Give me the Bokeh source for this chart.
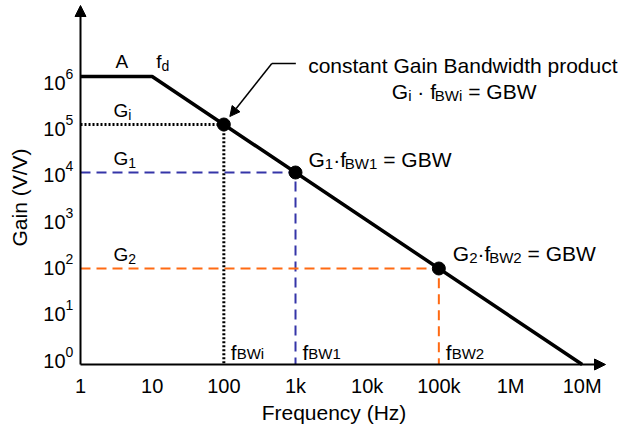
import math
from bokeh.plotting import figure
from bokeh.models import Label, Arrow, NormalHead, Range1d
from bokeh.embed import file_html
from bokeh.resources import INLINE

# ---------------- data ----------------
curve_freq = [1, 10, 1e7]          # Hz: flat to f_d, then -1 slope to 10 MHz
curve_gain = [1e6, 1e6, 1]         # V/V
point_names = ["i", "1", "2"]
point_freq = [1e2, 1e3, 1e5]       # f_BWi, f_BW1, f_BW2
point_gain = [1e5, 1e4, 1e2]       # G_i, G_1, G_2
x_ticks = [1, 10, 100, 1000, 10000, 100000, 1000000, 10000000]
x_tick_labels = ["1", "10", "100", "1k", "10k", "100k", "1M", "10M"]
y_ticks = [1, 10, 100, 1000, 10000, 100000, 1000000]
y_tick_exps = ["0", "1", "2", "3", "4", "5", "6"]

# ---------------- layout ----------------
FONT = "Liberation Sans"
W, H = 623, 428
X0, Y0 = 80, 364          # pixel position of (1, 1)
PXX = 71.67               # px per decade (x)
PXY = 48.0                # px per decade (y)
SHIFT = 7                 # baseline correction (px up)

p = figure(width=W, height=H, title=None, x_axis_type="log", y_axis_type="log",
           x_range=Range1d(10 ** (-X0 / PXX), 10 ** ((W - X0) / PXX)),
           y_range=Range1d(10 ** (-(H - Y0) / PXY), 10 ** (Y0 / PXY)),
           output_backend="svg", toolbar_location=None)
p.min_border = 0
p.xaxis.visible = False
p.yaxis.visible = False
p.grid.visible = False
p.outline_line_color = None
p.background_fill_color = "white"
p.border_fill_color = "white"


def at(xd, yd, dx=0.0, dy=0.0):
    """data point shifted dx px right and dy px down"""
    return xd * 10 ** (dx / PXX), yd * 10 ** (-dy / PXY)


def img(xi, yi):
    return 10 ** ((xi - X0) / PXX), 10 ** ((Y0 - yi) / PXY)


def label(x, y, s, size, align="left", baseline="alphabetic", angle=0.0):
    if baseline == "alphabetic":
        y = y * 10 ** (SHIFT / PXY)
    p.add_layout(Label(x=x, y=y, text=s, text_font=FONT, text_font_size=f"{size}px",
                       text_align=align, text_baseline=baseline, angle=angle,
                       text_color="black"))


WID = {'G': 778, 'A': 667, 'B': 667, 'W': 944, 'f': 278, 'd': 556, 'i': 222,
       '\u00b7': 278, ' ': 278, '=': 584, 'k': 500, 'M': 833}


def tw(s, size):
    return sum(WID.get(c, 556) for c in s) * size / 1000.0


def rich(xd, yd, dx, dy, parts):
    """parts: (text, size, drop px); leading spaces become cursor advance"""
    cx = dx
    for s, size, drop in parts:
        stripped = s.lstrip(" ")
        cx += tw(s[:len(s) - len(stripped)], size)
        x, y = at(xd, yd, cx, dy + drop)
        label(x, y, stripped, size)
        cx += tw(stripped, size)


# ---------------- guide lines ----------------
styles = [dict(line_color="black", line_dash="2 2", line_width=3),
          dict(line_color="#3535a8", line_dash="10 6", line_width=2),
          dict(line_color="#ff6a13", line_dash="10 6", line_width=2)]
for f, g, st in zip(point_freq, point_gain, styles):
    p.line([1, f, f], [g, g, 1], **st)

# ---------------- main curve & points ----------------
p.line(curve_freq, curve_gain, line_color="black", line_width=3.5)
p.scatter(point_freq, point_gain, size=13, color="black")

# ---------------- axes (arrows) ----------------
_, ya_end = img(X0, 5)
xa_end, _ = img(605, Y0)
p.add_layout(Arrow(end=NormalHead(size=11, fill_color="black", line_color="black", line_width=1),
                   x_start=1, y_start=1, x_end=1, y_end=ya_end, line_width=2, line_color="black"))
p.add_layout(Arrow(end=NormalHead(size=11, fill_color="black", line_color="black", line_width=1),
                   x_start=1, y_start=1, x_end=xa_end, y_end=1, line_width=2, line_color="black"))

# ---------------- tick labels ----------------
for t, l in zip(x_ticks, x_tick_labels):
    x, y = at(t, 1, 0, 28)
    label(x, y, l, 20, align="center")

n = len(y_ticks) - 1
for k, (t, e) in enumerate(zip(y_ticks, y_tick_exps)):
    drop = 3 + 10 * k / n
    x, y = at(1, t, -15, drop)
    label(x, y, "10", 20, align="right")
    x, y = at(1, t, -15, drop - 9)
    label(x, y, e, 14)

# ---------------- axis titles ----------------
x, y = img(19, 197)
label(x, y, "Gain (V/V)", 21, align="center", baseline="middle", angle=math.pi / 2)
x, y = img(333.5, 419)
label(x, y, "Frequency (Hz)", 21, align="center")

# ---------------- annotations ----------------
x, y = at(1, curve_gain[0], 35, -8)
label(x, y, "A", 19)
rich(curve_freq[1], curve_gain[1], 4, -8, [("f", 19, 0), ("d", 14, 4)])

for name, g in zip(point_names, point_gain):
    rich(1, g, 33, -7, [("G", 19, 0), (name, 14, 4)])

sub_w = {"i": "BWi", "1": "BW1", "2": "BW2"}
for name, f in zip(point_names, point_freq):
    rich(f, 1, 7, -5, [("f", 21, 0), (sub_w[name], 15, 1)])

# callout to G_i point
fi, gi = point_freq[0], point_gain[0]
ex, ey = at(fi, gi, 48, -61)
tx, ty = at(fi, gi, 6, -8)
sx, sy = at(fi, gi, 72, -61)
p.add_layout(Arrow(end=None, x_start=sx, y_start=sy, x_end=ex, y_end=ey,
                   line_width=1.5, line_color="black"))
p.add_layout(Arrow(end=NormalHead(size=10, fill_color="black", line_color="black", line_width=1),
                   x_start=ex, y_start=ey, x_end=tx, y_end=ty, line_width=1.5, line_color="black"))

x, y = at(fi, gi, 239, -52)
label(x, y, "constant Gain Bandwidth product", 21, align="center")
rich(fi, gi, 168, -26, [("G", 21, 0), ("i", 15, 4), (" \u00b7 f", 21, 0), ("BWi", 15, 4), (" = GBW", 21, 0)])

rich(point_freq[1], point_gain[1], 13, -6,
     [("G", 21, 0), ("1", 15, 4), ("\u00b7f", 21, 0), ("BW1", 15, 4), (" = GBW", 21, 0)])
rich(point_freq[2], point_gain[2], 14, -8,
     [("G", 21, 0), ("2", 15, 4), ("\u00b7f", 21, 0), ("BW2", 15, 4), (" = GBW", 21, 0)])

open("out.html", "w").write(file_html(p, INLINE))
